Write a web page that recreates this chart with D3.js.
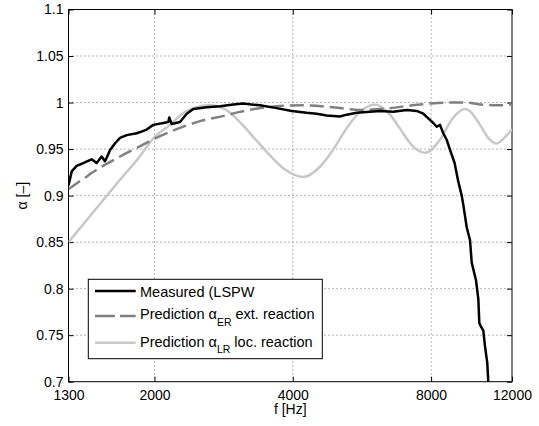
<!DOCTYPE html>
<html>
<head>
<meta charset="utf-8">
<script src="https://cdn.jsdelivr.net/npm/d3@7"></script>
<style>
  body { margin: 0; background: #fff; }
  text { font-family: "Liberation Sans", Arial, Helvetica, sans-serif; }
</style>
</head>
<body>
<div id="chart"></div>
<script>
// x ticks / y ticks
const xTicks = [1300, 2000, 4000, 8000, 12000];
const xGrid = [2000, 4000, 8000];
const yTicks = [0.7, 0.75, 0.8, 0.85, 0.9, 0.95, 1, 1.05, 1.1];

// Measured (LSPW)
const measuredF = [1300, 1310, 1321, 1354, 1400, 1430, 1460, 1497, 1535, 1561, 1575, 1601, 1640, 1683, 1740, 1830, 1880, 1924, 1988, 2091, 2144, 2154, 2180, 2273, 2351, 2430, 2598, 2778, 2969, 3117, 3394, 3690, 3978, 4289, 4510, 4741, 5067, 5241, 5511, 6193, 6620, 7079, 7443, 7694, 7889, 8089, 8228, 8365, 8504, 8650, 8870, 9000, 9169, 9327, 9402, 9563, 9723, 9806, 10019, 10136, 10187, 10250, 10393, 10482, 10603, 10656, 10700];
const measuredA = [0.911, 0.918, 0.926, 0.932, 0.935, 0.937, 0.939, 0.935, 0.942, 0.937, 0.941, 0.949, 0.956, 0.962, 0.965, 0.967, 0.969, 0.971, 0.976, 0.978, 0.979, 0.984, 0.977, 0.979, 0.988, 0.993, 0.995, 0.996, 0.998, 0.999, 0.997, 0.994, 0.991, 0.989, 0.988, 0.986, 0.985, 0.987, 0.989, 0.991, 0.990, 0.992, 0.991, 0.988, 0.983, 0.978, 0.974, 0.976, 0.967, 0.960, 0.944, 0.935, 0.915, 0.900, 0.890, 0.866, 0.852, 0.828, 0.809, 0.789, 0.763, 0.760, 0.755, 0.738, 0.720, 0.700, 0.690];

// Prediction alpha_ER ext. reaction
const erF = [1300, 1400, 1522, 1683, 1844, 2000, 2200, 2513, 2848, 3070, 3510, 4217, 4893, 5603, 6512, 7271, 8000, 8883, 9481, 10222, 11115, 12000];
const erA = [0.907, 0.918, 0.930, 0.942, 0.952, 0.961, 0.970, 0.980, 0.986, 0.990, 0.995, 0.997, 0.995, 0.992, 0.994, 0.997, 0.999, 1.000, 1.000, 0.998, 0.997, 0.998];

// Prediction alpha_LR loc. reaction
const lrF = [1300, 1522, 1683, 1844, 1985, 2162, 2331, 2513, 2642, 2848, 3070, 3310, 3510, 3847, 4217, 4585, 4893, 5248, 5603, 6040, 6512, 6846, 7271, 7760, 8365, 8883, 9481, 9800, 10222, 10694, 11115, 11587, 12000];
const lrA = [0.850, 0.891, 0.917, 0.940, 0.961, 0.976, 0.990, 0.996, 0.997, 0.993, 0.979, 0.961, 0.947, 0.928, 0.920, 0.931, 0.949, 0.973, 0.990, 0.998, 0.987, 0.972, 0.954, 0.946, 0.960, 0.982, 0.993, 0.989, 0.976, 0.961, 0.956, 0.963, 0.971];

const margin = { top: 9.5, right: 27, bottom: 44.3, left: 68.5 };
const width = 539 - margin.left - margin.right;
const height = 426 - margin.top - margin.bottom;

const svg = d3.select("#chart")
  .append("svg")
  .attr("width", 539)
  .attr("height", 426);

const g = svg.append("g")
  .attr("transform", `translate(${margin.left},${margin.top})`);

const x = d3.scaleLog().domain([1300, 12000]).range([0, width]);
const y = d3.scaleLinear().domain([0.7, 1.1]).range([height, 0]);

// dotted grid
g.append("g")
  .selectAll("line")
  .data(xGrid)
  .join("line")
  .attr("x1", d => x(d)).attr("x2", d => x(d))
  .attr("y1", 0).attr("y2", height)
  .attr("stroke", "#444")
  .attr("stroke-width", 0.8)
  .attr("stroke-dasharray", "1,3");

g.append("g")
  .selectAll("line")
  .data(yTicks.slice(1, -1))
  .join("line")
  .attr("x1", 0).attr("x2", width)
  .attr("y1", d => y(d)).attr("y2", d => y(d))
  .attr("stroke", "#444")
  .attr("stroke-width", 0.8)
  .attr("stroke-dasharray", "1,3");

// axes, ticks inward
const xAxis = g.append("g")
  .attr("transform", `translate(0,${height})`)
  .call(d3.axisBottom(x).tickValues(xTicks).tickFormat(d3.format("d")).tickSize(-5).tickSizeOuter(0).tickPadding(8));
g.append("g")
  .call(d3.axisTop(x).tickValues(xTicks).tickFormat("").tickSize(-5).tickSizeOuter(0));
const yAxis = g.append("g")
  .call(d3.axisLeft(y).tickValues(yTicks).tickFormat(d => d3.format("")(+d.toFixed(2))).tickSize(-5).tickSizeOuter(0).tickPadding(5));
g.append("g")
  .attr("transform", `translate(${width},0)`)
  .call(d3.axisRight(y).tickValues(yTicks).tickFormat("").tickSize(-5).tickSizeOuter(0));

g.selectAll(".domain").remove();
g.selectAll(".tick line").attr("stroke", "#000").attr("stroke-width", 1);
g.selectAll(".tick text").attr("fill", "#000").style("font-size", "14px");

g.append("rect")
  .attr("width", width).attr("height", height)
  .attr("fill", "none").attr("stroke", "#000").attr("stroke-width", 1);

// curves
g.append("clipPath").attr("id", "clip")
  .append("rect").attr("width", width).attr("height", height);

const line = d3.line()
  .x(d => x(d[0]))
  .y(d => y(d[1]))
  .curve(d3.curveMonotoneX);

const plot = g.append("g").attr("clip-path", "url(#clip)");

plot.append("path")
  .datum(lrF.map((f, i) => [f, lrA[i]]))
  .attr("d", line)
  .attr("fill", "none").attr("stroke", "#c8c8c8").attr("stroke-width", 2.5);

plot.append("path")
  .datum(erF.map((f, i) => [f, erA[i]]))
  .attr("d", line)
  .attr("fill", "none").attr("stroke", "#808080").attr("stroke-width", 2.5)
  .attr("stroke-dasharray", "14,6");

plot.append("path")
  .datum(measuredF.map((f, i) => [f, measuredA[i]]))
  .attr("d", d3.line().x(d => x(d[0])).y(d => y(d[1])))
  .attr("fill", "none").attr("stroke", "#000").attr("stroke-width", 2.5)
  .attr("stroke-linejoin", "round");

// axis labels
svg.append("text")
  .attr("x", margin.left + width / 2)
  .attr("y", 414)
  .attr("text-anchor", "middle")
  .style("font-size", "14px")
  .text("f [Hz]");

svg.append("text")
  .attr("transform", `translate(27,${margin.top + height / 2}) rotate(-90)`)
  .attr("text-anchor", "middle")
  .style("font-size", "14px")
  .text("α [–]");

// legend
const legend = svg.append("g");
legend.append("rect")
  .attr("x", 88.3).attr("y", 279.3)
  .attr("width", 234).attr("height", 79.4)
  .attr("fill", "#fff").attr("stroke", "#000").attr("stroke-width", 1);

const items = [
  { color: "#000", dash: null, ly: 291, ty: 296.7, pre: "Measured (LSPW", sub: "", post: "" },
  { color: "#808080", dash: "20,5", ly: 316, ty: 319.3, pre: "Prediction α", sub: "ER", post: " ext. reaction" },
  { color: "#c8c8c8", dash: null, ly: 342.7, ty: 346.7, pre: "Prediction α", sub: "LR", post: " loc. reaction" }
];

items.forEach(it => {
  legend.append("line")
    .attr("x1", 95).attr("x2", 135.7)
    .attr("y1", it.ly).attr("y2", it.ly)
    .attr("stroke", it.color).attr("stroke-width", 2.5)
    .attr("stroke-dasharray", it.dash);
  const t = legend.append("text")
    .attr("x", 140).attr("y", it.ty)
    .style("font-size", "14.5px");
  t.append("tspan").text(it.pre);
  if (it.sub) {
    t.append("tspan").attr("dy", 6.5).style("font-size", "10.5px").text(it.sub);
    t.append("tspan").attr("dy", -6.5).text(it.post);
  }
});
</script>
</body>
</html>
